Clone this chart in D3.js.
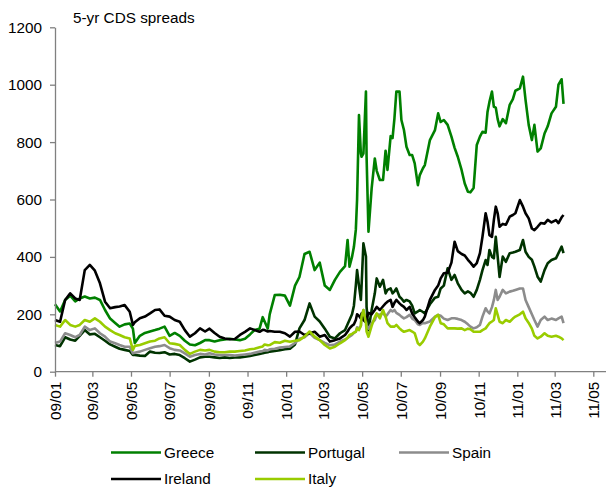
<!DOCTYPE html>
<html><head><meta charset="utf-8">
<script src="https://cdn.jsdelivr.net/npm/d3@7"></script>
<style>
html,body{margin:0;padding:0;background:#fff;}
svg text{font-family:"Liberation Sans",Arial,sans-serif;fill:#000;}
</style></head>
<body><svg id="c" width="610" height="488"></svg>
<script>
const dates = ["2009-01-01","2009-01-09","2009-01-17","2009-01-25","2009-02-02","2009-02-09","2009-02-17","2009-02-25","2009-03-05","2009-03-13",
"2009-03-21","2009-03-29","2009-04-06","2009-04-13","2009-04-21","2009-04-29","2009-05-04","2009-05-07","2009-05-15","2009-05-23",
"2009-05-31","2009-06-08","2009-06-15","2009-06-23","2009-07-01","2009-07-09","2009-07-17","2009-07-25","2009-08-02","2009-08-10",
"2009-08-18","2009-08-26","2009-09-02","2009-09-10","2009-09-18","2009-09-26","2009-10-04","2009-10-12","2009-10-20","2009-10-28",
"2009-11-05","2009-11-12","2009-11-20","2009-11-25","2009-11-28","2009-12-03","2009-12-06","2009-12-14","2009-12-22","2009-12-30",
"2010-01-07","2010-01-15","2010-01-22","2010-01-30","2010-02-07","2010-02-15","2010-02-23","2010-03-03","2010-03-11","2010-03-19",
"2010-03-27","2010-04-04","2010-04-08","2010-04-11","2010-04-15","2010-04-18","2010-04-21","2010-04-23","2010-04-26","2010-04-29",
"2010-04-30","2010-05-03","2010-05-07","2010-05-08","2010-05-11","2010-05-16","2010-05-21","2010-05-24","2010-05-29","2010-06-03",
"2010-06-07","2010-06-10","2010-06-15","2010-06-18","2010-06-21","2010-06-24","2010-06-29","2010-07-02","2010-07-06","2010-07-10",
"2010-07-15","2010-07-19","2010-07-23","2010-07-28","2010-07-31","2010-08-05","2010-08-08","2010-08-16","2010-08-24","2010-08-29",
"2010-09-02","2010-09-07","2010-09-13","2010-09-19","2010-09-24","2010-09-29","2010-10-05","2010-10-10","2010-10-15","2010-10-19",
"2010-10-24","2010-10-29","2010-11-03","2010-11-07","2010-11-12","2010-11-15","2010-11-18","2010-11-22","2010-11-25","2010-11-28",
"2010-12-01","2010-12-04","2010-12-09","2010-12-14","2010-12-20","2010-12-25","2010-12-29","2011-01-05","2011-01-10","2011-01-14",
"2011-01-19","2011-01-24","2011-01-28","2011-02-02","2011-02-07","2011-02-13","2011-02-18","2011-02-24","2011-03-03","2011-03-07",
"2011-03-12","2011-03-15"];

const greece = [235,210,250,265,245,255,262,255,258,250, 215,185,170,157,165,168,150,100,125,135,
140,145,150,157,125,135,125,108,95,92, 100,110,110,105,110,112,115,112,110,115,
130,145,150,190,175,150,200,267,268,265, 230,300,330,410,418,354,380,300,285,320,
348,368,459,366,400,435,494,600,894,760, 749,760,976,750,488,639,743,700,668,668,
770,703,821,814,883,976,976,877,842,784, 755,755,726,650,685,709,720,807,842,900,
870,877,860,819,780,749,703,656,627,625, 640,790,819,836,833,906,940,976,923,920,
880,855,880,866,930,950,979,987,1028,947, 860,807,860,767,778,830,855,900,923,1000,
1019,933];

const portugal = [93,89,120,112,108,125,145,130,132,120, 108,95,87,80,76,72,58,58,56,55,
70,66,65,68,60,62,58,47,35,42, 50,52,52,50,48,50,48,50,50,52,
55,58,62,64,66,68,70,72,75,78, 80,95,151,180,238,192,175,150,122,116,
134,145,165,180,200,230,300,354,300,250, 296,447,401,226,145,215,273,325,296,320,
273,285,290,273,280,290,261,255,244,250, 245,230,203,210,215,208,203,235,258,261,
290,300,360,320,337,308,285,273,280,275, 261,285,320,354,389,372,424,400,395,470,
401,330,401,383,413,415,418,424,459,418, 400,390,366,331,314,354,378,389,395,413,
436,413];

const spain = [100,105,134,128,120,128,157,145,151,134, 122,105,99,93,87,87,64,66,70,76,
82,87,89,93,82,76,74,64,52,58, 62,60,64,60,58,58,58,56,58,60,
62,66,70,72,76,74,78,80,84,86, 88,100,115,120,135,118,110,100,92,95,
105,112,118,122,128,135,140,155,150,160, 190,215,180,160,150,169,180,200,198,205,
192,200,215,210,215,205,198,192,186,190, 198,185,180,165,163,170,169,175,192,198,
195,185,180,186,186,184,180,174,165,157, 151,155,163,192,221,210,203,225,250,285,
250,261,285,273,279,282,285,290,290,250, 225,200,180,157,180,192,180,185,180,186,
192,169];

const ireland = [180,174,250,273,255,250,354,372,352,308, 244,221,225,227,232,209,163,172,186,192,
203,215,217,195,192,180,174,145,122,134, 151,140,150,135,122,116,113,114,128,139,
151,145,139,146,145,140,142,139,139,134, 122,139,140,128,134,139,122,128,105,110,
116,128,140,151,160,165,180,200,195,185, 203,180,172,185,205,200,215,226,215,228,
238,244,250,226,240,250,238,232,226,215, 226,203,190,175,169,180,192,250,285,300,
325,343,345,380,453,420,410,405,390,380, 366,378,413,470,552,522,476,470,529,575,
552,505,515,512,540,546,552,598,575,552, 534,499,493,505,518,516,529,520,528,518,
538,546];

const italy = [163,157,180,163,157,163,180,174,186,174, 157,145,134,128,120,116,76,90,93,99,
105,108,116,120,99,97,93,76,62,70, 76,74,76,70,68,68,70,70,72,74,
78,80,85,88,95,92,93,103,101,108, 104,108,110,122,140,122,110,93,81,87,
99,110,118,128,132,136,139,151,145,160, 192,215,169,140,122,160,190,203,186,215,
192,169,157,157,157,163,151,145,139,142, 145,140,134,99,93,105,116,157,190,198,
169,165,151,151,151,150,151,145,150,148, 139,139,139,145,151,160,169,175,180,221,
198,174,169,180,174,185,192,200,209,186, 170,150,125,116,122,134,125,122,125,122,
116,110];

const seriesNames = ["Greece","Portugal","Spain","Ireland","Italy"];
const seriesColors = ["#008000","#003300","#8c8c8c","#000000","#99cc00"];
const seriesValues = [greece, portugal, spain, ireland, italy];
const yTicks = [0,200,400,600,800,1000,1200];
const title = "5-yr CDS spreads";

const parse = d3.utcParse("%Y-%m-%d");
const fmt = d3.utcFormat("%y/%m");
const svg = d3.select("#c");

const x = d3.scaleUtc().domain([parse("2009-01-01"), parse("2011-05-01")]).range([55, 593.3]);
const y = d3.scaleLinear().domain([0, 1200]).range([371.7, 27.3]);
const axisColor = "#808080";
const fontSize = "15.3px";

// lines
const line = d3.line().x(d => x(d.date)).y(d => y(d.v));
seriesValues.forEach((vals, i) => {
  const data = dates.map((d, j) => ({date: parse(d), v: vals[j]}));
  svg.append("path").datum(data)
    .attr("d", line)
    .attr("fill", "none")
    .attr("stroke", seriesColors[i])
    .attr("stroke-width", 2.6)
    .attr("stroke-linejoin", "round");
});

// y axis
const yAxis = d3.axisLeft(y).tickValues(yTicks).tickFormat(d3.format("d"))
  .tickSize(5).tickPadding(8).tickSizeOuter(0);
const gy = svg.append("g").attr("transform", "translate(55,0)").call(yAxis);
gy.selectAll("path, line").attr("stroke", axisColor).attr("stroke-width", 1.3);
gy.selectAll("text").style("font-size", fontSize).attr("fill", "#000");

// x axis
const xTicks = d3.utcMonth.every(2).range(parse("2009-01-01"), parse("2011-05-02"));
const xAxis = d3.axisBottom(x).tickValues(xTicks).tickFormat(fmt).tickSize(5).tickSizeOuter(0);
const gx = svg.append("g").attr("transform", "translate(0," + y(0) + ")").call(xAxis);
gx.select(".domain").remove();
gx.append("line").attr("x1", 55).attr("x2", 606).attr("y1", 0).attr("y2", 0)
  .attr("stroke", axisColor).attr("stroke-width", 1.3);
gx.selectAll(".tick line").attr("stroke", axisColor).attr("stroke-width", 1.3);
gx.selectAll(".tick text")
  .style("font-size", fontSize)
  .attr("text-anchor", "end")
  .attr("transform", "rotate(-90)")
  .attr("x", -10).attr("y", 0).attr("dy", "0.35em")
  .attr("fill", "#000");

// title
svg.append("text").attr("x", 73).attr("y", 22.5).style("font-size", fontSize).text(title);

// legend
const legendPos = [[111, 452.5], [255, 452.5], [399, 452.5], [111, 479], [255, 479]];
seriesNames.forEach((name, i) => {
  const [lx, ly] = legendPos[i];
  const g = svg.append("g");
  g.append("line").attr("x1", lx).attr("x2", lx + 50).attr("y1", ly).attr("y2", ly)
    .attr("stroke", seriesColors[i]).attr("stroke-width", 2.6);
  g.append("text").attr("x", lx + 53).attr("y", ly).attr("dy", "0.35em")
    .style("font-size", fontSize).text(name);
});
</script></body></html>
